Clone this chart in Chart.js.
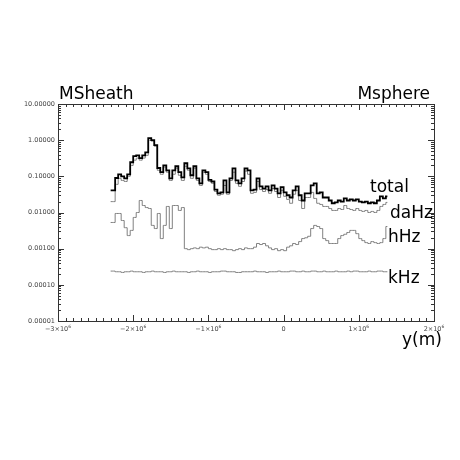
<!DOCTYPE html>
<html>
<head>
<meta charset="utf-8">
<script src="https://cdn.jsdelivr.net/npm/chart.js@4/dist/chart.umd.min.js"></script>
<style>
  body { margin: 0; background: #fff; }
</style>
</head>
<body>
<canvas id="wave_chart" width="460" height="460"></canvas>
<script>
// positions along y, in units of 1e6 m
const yPos = [
  -2.30,-2.26,-2.22,-2.18,-2.14,-2.10,-2.06,-2.02,-1.98,-1.94,
  -1.90,-1.86,-1.82,-1.78,-1.74,-1.70,-1.66,-1.62,-1.58,-1.54,
  -1.50,-1.46,-1.42,-1.38,-1.34,-1.30,-1.26,-1.22,-1.18,-1.14,
  -1.10,-1.06,-1.02,-0.98,-0.94,-0.90,-0.86,-0.82,-0.78,-0.74,
  -0.70,-0.66,-0.62,-0.58,-0.54,-0.50,-0.46,-0.42,-0.38,-0.34,
  -0.30,-0.26,-0.22,-0.18,-0.14,-0.10,-0.06,-0.02,0.02,0.06,
  0.10,0.14,0.18,0.22,0.26,0.30,0.34,0.38,0.42,0.46,
  0.50,0.54,0.58,0.62,0.66,0.70,0.74,0.78,0.82,0.86,
  0.90,0.94,0.98,1.02,1.06,1.10,1.14,1.18,1.22,1.26,
  1.30,1.34,1.38
];

const totalVals = [
  0.041,0.041,0.09,0.114,0.1,0.088,0.114,0.245,0.36,0.38,
  0.32,0.38,0.46,1.14,1.0,0.73,0.17,0.13,0.2,0.147,
  0.088,0.147,0.19,0.13,0.094,0.23,0.167,0.107,0.19,0.088,
  0.064,0.147,0.13,0.08,0.072,0.043,0.034,0.036,0.077,0.036,
  0.088,0.167,0.077,0.064,0.088,0.167,0.147,0.041,0.043,0.088,
  0.053,0.046,0.053,0.041,0.056,0.046,0.034,0.05,0.036,0.03,
  0.026,0.041,0.053,0.03,0.0215,0.034,0.034,0.056,0.064,0.034,
  0.036,0.026,0.026,0.0215,0.018,0.019,0.0215,0.02,0.0245,0.0215,
  0.023,0.0215,0.023,0.02,0.019,0.02,0.018,0.019,0.018,0.0215,
  0.028,0.0245,0.028
];

const daHzVals = [
  0.02,0.02,0.06,0.088,0.077,0.072,0.1,0.2,0.28,0.32,
  0.28,0.32,0.38,1.0,0.94,0.68,0.147,0.114,0.18,0.13,
  0.077,0.114,0.167,0.107,0.077,0.19,0.147,0.088,0.167,0.077,
  0.056,0.13,0.114,0.072,0.064,0.038,0.03,0.032,0.056,0.032,
  0.077,0.13,0.064,0.053,0.072,0.14,0.114,0.034,0.036,0.072,
  0.043,0.038,0.043,0.034,0.046,0.038,0.026,0.041,0.028,0.023,
  0.018,0.032,0.041,0.0215,0.0129,0.026,0.026,0.036,0.0245,0.018,
  0.0167,0.0147,0.0147,0.0129,0.0114,0.0114,0.0129,0.0121,0.0156,0.0129,
  0.0121,0.0114,0.0129,0.0114,0.0107,0.0114,0.01,0.0107,0.01,0.0114,
  0.0147,0.0167,0.019
];

const hHzVals = [
  0.0053,0.0053,0.0094,0.0094,0.006,0.0038,0.0023,0.0032,0.0073,0.01,
  0.0215,0.0156,0.0137,0.0129,0.0044,0.0036,0.0094,0.0019,0.0044,0.0147,
  0.0036,0.0156,0.0156,0.0114,0.0137,0.001,0.00094,0.001,0.00105,0.001,
  0.0011,0.00105,0.0011,0.001,0.00094,0.00094,0.001,0.00094,0.001,0.00094,
  0.00094,0.00088,0.00094,0.001,0.00094,0.00105,0.001,0.001,0.0011,0.00139,
  0.0013,0.00139,0.0012,0.00105,0.00094,0.001,0.00088,0.00094,0.00088,0.0011,
  0.0012,0.00139,0.0013,0.00157,0.0019,0.002,0.0022,0.0036,0.0044,0.0041,
  0.0036,0.0019,0.00167,0.00139,0.00139,0.00139,0.0019,0.0023,0.0025,0.0028,
  0.0032,0.0032,0.0026,0.0019,0.00167,0.00147,0.00139,0.00157,0.00147,0.00139,
  0.00147,0.0019,0.0041
];

const kHzVals = [
  0.00024,0.00024,0.00023,0.00023,0.00022,0.00023,0.00023,0.00024,0.00023,0.00023,
  0.00023,0.00022,0.00023,0.00023,0.00024,0.00023,0.00023,0.00023,0.00022,0.00023,
  0.00023,0.00024,0.00023,0.00023,0.00023,0.00023,0.00022,0.00023,0.00023,0.00024,
  0.00023,0.00023,0.00023,0.00022,0.00023,0.00023,0.00023,0.00024,0.00024,0.00023,
  0.00023,0.00023,0.00022,0.00022,0.00023,0.00023,0.00023,0.00023,0.00024,0.00023,
  0.00023,0.00023,0.00022,0.00023,0.00023,0.00023,0.00024,0.00023,0.00023,0.00023,
  0.00024,0.00024,0.00023,0.00023,0.00024,0.00023,0.00023,0.00024,0.00024,0.00023,
  0.00023,0.00024,0.00023,0.00023,0.00023,0.00024,0.00023,0.00023,0.00023,0.00024,
  0.00023,0.00024,0.00024,0.00023,0.00023,0.00023,0.00024,0.00023,0.00023,0.00024,
  0.00024,0.00023,0.00023
];

const xTicks = [-3, -2, -1, 0, 1, 2];   // x 1e6
const yTicks = [1e-5, 1e-4, 1e-3, 1e-2, 1e-1, 1, 10];

function toPoints(vals){
    return vals.map(function(v, i){ return {x: yPos[i] * 1e6, y: v}; });
}

function line(ctx, x1, y1, x2, y2){
    ctx.beginPath();
    ctx.moveTo(x1, y1);
    ctx.lineTo(x2, y2);
    ctx.stroke();
}

// frame, inward ticks and all the text
const framePlugin = {
    id: 'frame',
    afterDatasetsDraw(chart){
        const ctx = chart.ctx;
        const a = chart.chartArea;
        const xs = chart.scales.x;
        const ys = chart.scales.y;
        ctx.save();
        ctx.strokeStyle = '#333';
        ctx.lineWidth = 1;
        ctx.strokeRect(Math.round(a.left) + 0.5, Math.round(a.top) + 0.5,
                       Math.round(a.right - a.left), Math.round(a.bottom - a.top));

        // x ticks (major every 1e6, minor every 1e5)
        for(let k = xTicks[0] * 10; k <= xTicks[xTicks.length - 1] * 10; k++){
            const px = Math.round(xs.getPixelForValue(k * 1e5)) + 0.5;
            const len = (k % 10 === 0) ? 6 : 3;
            line(ctx, px, a.bottom, px, a.bottom - len);
            line(ctx, px, a.top, px, a.top + len);
        }
        // y ticks (decades + 2..9 minors)
        yTicks.forEach(function(t, i){
            const py = Math.round(ys.getPixelForValue(t)) + 0.5;
            line(ctx, a.left, py, a.left + 6, py);
            line(ctx, a.right, py, a.right - 6, py);
            if(i < yTicks.length - 1){
                for(let m = 2; m <= 9; m++){
                    const pm = Math.round(ys.getPixelForValue(t * m)) + 0.5;
                    line(ctx, a.left, pm, a.left + 3, pm);
                    line(ctx, a.right, pm, a.right - 3, pm);
                }
            }
        });

        // tick labels
        ctx.fillStyle = '#444';
        ctx.font = '6.5px "DejaVu Sans"';
        ctx.textAlign = 'right';
        ctx.textBaseline = 'middle';
        yTicks.forEach(function(t){
            ctx.fillText(t.toFixed(5), a.left - 3, ys.getPixelForValue(t));
        });
        ctx.textBaseline = 'alphabetic';
        xTicks.forEach(function(t){
            const px = xs.getPixelForValue(t * 1e6);
            if(t === 0){
                ctx.textAlign = 'center';
                ctx.font = '6.5px "DejaVu Sans"';
                ctx.fillText('0', px, a.bottom + 10);
                return;
            }
            const main = (t < 0 ? '\u2212' : '') + Math.abs(t) + '\u00d710';
            ctx.font = '6.5px "DejaVu Sans"';
            const w1 = ctx.measureText(main).width;
            ctx.font = '4.5px "DejaVu Sans"';
            const w2 = ctx.measureText('6').width;
            const x0 = px - (w1 + w2) / 2;
            ctx.textAlign = 'left';
            ctx.font = '6.5px "DejaVu Sans"';
            ctx.fillText(main, x0, a.bottom + 10);
            ctx.font = '4.5px "DejaVu Sans"';
            ctx.fillText('6', x0 + w1, a.bottom + 7);
        });

        // titles and series names
        ctx.fillStyle = '#000';
        ctx.font = '17px "DejaVu Sans"';
        ctx.textAlign = 'left';
        ctx.fillText('MSheath', 59, 99);
        ctx.textAlign = 'right';
        ctx.fillText('Msphere', 430, 99);
        ctx.textAlign = 'left';
        ctx.fillText('total', 370, 192);
        ctx.fillText('daHz', 390, 218);
        ctx.fillText('hHz', 388, 242);
        ctx.fillText('kHz', 388, 283);
        ctx.fillText('y(m)', 402, 345);
        ctx.restore();
    }
};

function createChart(){
    const ctx = document.getElementById('wave_chart').getContext('2d');
    new Chart(ctx, {
        type: 'line',
        data: {
            datasets: [
                { label: 'total', data: toPoints(totalVals), borderColor: '#000', borderWidth: 1.8 },
                { label: 'daHz', data: toPoints(daHzVals), borderColor: '#808080', borderWidth: 1 },
                { label: 'hHz', data: toPoints(hHzVals), borderColor: '#808080', borderWidth: 1 },
                { label: 'kHz', data: toPoints(kHzVals), borderColor: '#808080', borderWidth: 1 }
            ]
        },
        options: {
            responsive: false,
            devicePixelRatio: 1,
            animation: false,
            layout: { padding: { left: 58, right: 26, top: 104, bottom: 139 } },
            elements: {
                line: { stepped: 'middle', fill: false, tension: 0 },
                point: { radius: 0 }
            },
            plugins: { legend: { display: false }, tooltip: { enabled: false } },
            scales: {
                x: { type: 'linear', min: -3e6, max: 2e6, display: false },
                y: { type: 'logarithmic', min: 1e-5, max: 10, display: false }
            }
        },
        plugins: [framePlugin]
    });
}

createChart();
</script>
</body>
</html>
